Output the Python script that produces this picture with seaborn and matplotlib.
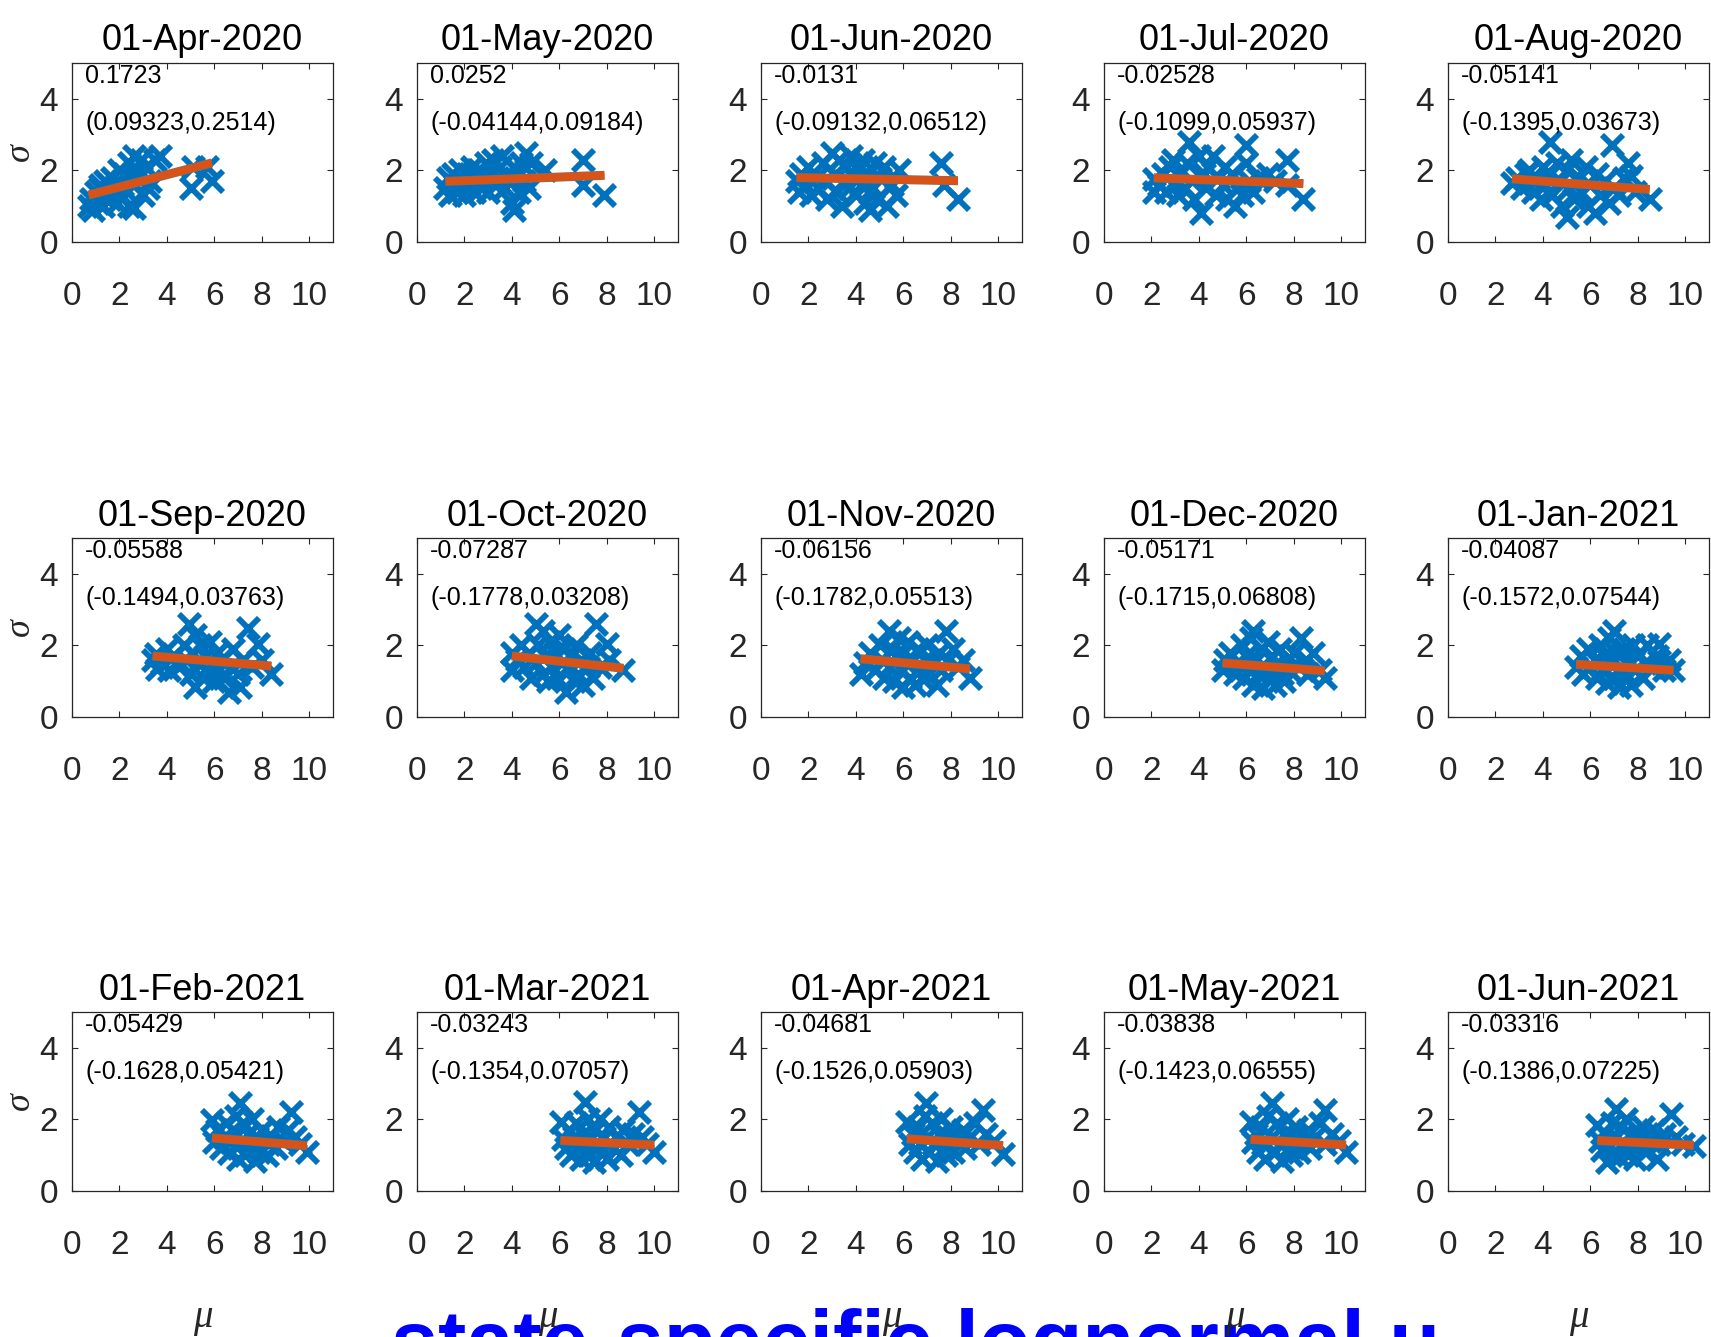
import matplotlib
matplotlib.use("Agg")
import matplotlib.pyplot as plt
import matplotlib.patheffects as pe
import seaborn as sns
import pandas as pd

# Monthly fits of sigma against mu for the state-specific lognormal parameters
titles = ["01-Apr-2020", "01-May-2020", "01-Jun-2020", "01-Jul-2020", "01-Aug-2020",
          "01-Sep-2020", "01-Oct-2020", "01-Nov-2020", "01-Dec-2020", "01-Jan-2021",
          "01-Feb-2021", "01-Mar-2021", "01-Apr-2021", "01-May-2021", "01-Jun-2021"]

slopes = [0.1723, 0.0252, -0.0131, -0.02528, -0.05141,
          -0.05588, -0.07287, -0.06156, -0.05171, -0.04087,
          -0.05429, -0.03243, -0.04681, -0.03838, -0.03316]

ci_low = [0.09323, -0.04144, -0.09132, -0.1099, -0.1395,
          -0.1494, -0.1778, -0.1782, -0.1715, -0.1572,
          -0.1628, -0.1354, -0.1526, -0.1423, -0.1386]

ci_high = [0.2514, 0.09184, 0.06512, 0.05937, 0.03673,
           0.03763, 0.03208, 0.05513, 0.06808, 0.07544,
           0.05421, 0.07057, 0.05903, 0.06555, 0.07225]

intercepts = [1.192, 1.663, 1.820, 1.846, 1.904,
              1.893, 1.995, 1.885, 1.769, 1.693,
              1.803, 1.608, 1.748, 1.679, 1.621]

# (mu, sigma) per state for each month
pts_2020_04 = [(0.7, 1.0), (0.8, 1.2), (0.9, 0.9), (1.0, 1.4), (1.1, 1.1), (1.2, 1.5), (1.2, 1.6),
               (1.3, 1.0), (1.4, 1.7), (1.5, 1.3), (1.6, 1.2), (1.7, 1.8), (1.8, 1.5), (1.9, 1.1),
               (2.0, 2.0), (2.0, 1.3), (2.1, 1.6), (2.2, 1.9), (2.3, 1.4), (2.4, 2.2), (2.4, 1.0),
               (2.5, 1.7), (2.6, 2.4), (2.6, 0.95), (2.7, 2.0), (2.8, 1.8), (2.9, 2.3), (3.0, 1.3),
               (3.1, 2.1), (3.2, 1.5), (3.3, 1.7), (3.5, 2.3), (3.7, 2.4), (5.0, 1.5), (5.1, 2.1),
               (5.7, 2.1), (5.9, 1.7)]

pts_2020_05 = [(1.2, 1.5), (1.3, 1.8), (1.4, 1.3), (1.5, 1.9), (1.6, 1.6), (1.7, 1.4), (1.8, 2.0),
               (1.9, 1.7), (2.0, 1.3), (2.1, 1.9), (2.2, 1.6), (2.3, 2.1), (2.4, 1.4), (2.5, 1.8),
               (2.6, 2.0), (2.7, 1.5), (2.8, 1.7), (2.9, 2.2), (3.0, 1.4), (3.1, 1.9), (3.2, 2.3),
               (3.3, 1.6), (3.4, 1.8), (3.5, 2.1), (3.6, 2.4), (3.7, 1.5), (3.8, 1.9), (3.9, 1.7),
               (4.0, 1.1), (4.1, 0.9), (4.2, 2.0), (4.3, 1.4), (4.4, 2.2), (4.5, 1.7), (4.6, 2.5),
               (4.7, 1.5), (4.8, 2.2), (5.4, 2.0), (7.0, 2.3), (7.0, 1.6), (7.9, 1.3)]

pts_2020_06 = [(1.5, 1.7), (1.6, 1.4), (1.7, 1.9), (1.9, 1.6), (2.0, 2.1), (2.1, 1.3), (2.3, 1.8),
               (2.4, 1.5), (2.6, 2.2), (2.7, 1.7), (2.8, 1.2), (3.0, 2.5), (3.1, 1.9), (3.2, 1.4),
               (3.3, 2.3), (3.4, 1.0), (3.5, 1.7), (3.6, 2.1), (3.7, 1.5), (3.8, 2.4), (3.9, 1.8),
               (4.0, 1.3), (4.1, 2.0), (4.2, 1.6), (4.3, 2.3), (4.4, 1.1), (4.5, 1.9), (4.6, 0.9),
               (4.7, 1.5), (4.8, 2.2), (4.9, 1.2), (5.0, 1.8), (5.2, 2.1), (5.3, 1.0), (5.5, 1.6),
               (5.7, 1.3), (5.8, 2.0), (7.6, 2.2), (7.7, 1.6), (8.3, 1.2)]

pts_2020_07 = [(2.1, 1.4), (2.1, 1.75), (2.3, 1.6), (2.5, 1.9), (2.6, 1.4), (2.8, 2.1), (2.9, 2.3),
               (3.0, 1.6), (3.1, 1.3), (3.2, 1.9), (3.4, 1.5), (3.5, 2.2), (3.6, 2.8), (3.7, 1.7),
               (3.8, 1.2), (4.0, 2.4), (4.1, 0.8), (4.2, 1.9), (4.3, 1.5), (4.4, 2.1), (4.6, 2.4),
               (4.7, 1.3), (4.8, 1.8), (5.0, 1.6), (5.1, 2.1), (5.2, 1.2), (5.4, 1.9), (5.5, 1.0),
               (5.6, 1.5), (5.8, 1.3), (6.0, 2.7), (6.0, 2.2), (6.1, 1.7), (6.3, 1.4), (6.5, 1.8),
               (6.9, 1.9), (7.2, 1.7), (7.7, 2.3), (7.7, 1.6), (8.4, 1.2)]

pts_2020_08 = [(2.7, 1.65), (2.9, 1.8), (3.1, 1.5), (3.3, 1.9), (3.4, 2.0), (3.6, 1.4), (3.7, 1.7),
               (3.9, 1.2), (4.0, 2.1), (4.1, 1.6), (4.3, 2.8), (4.3, 1.9), (4.4, 1.3), (4.6, 2.2),
               (4.7, 1.7), (4.8, 1.0), (5.0, 0.7), (5.0, 2.0), (5.1, 1.5), (5.2, 2.3), (5.3, 1.2),
               (5.5, 1.8), (5.6, 1.4), (5.8, 2.1), (5.9, 1.0), (6.0, 1.6), (6.2, 0.8), (6.3, 1.9),
               (6.4, 1.3), (6.6, 1.7), (6.8, 1.1), (6.9, 2.7), (7.0, 1.5), (7.2, 1.3), (7.4, 1.8),
               (7.6, 2.2), (7.7, 1.85), (7.9, 1.4), (8.5, 1.2)]

pts_2020_09 = [(3.4, 1.6), (3.55, 1.75), (3.6, 1.33), (3.8, 1.5), (4.0, 1.9), (4.1, 1.3), (4.3, 1.7),
               (4.5, 1.4), (4.7, 2.0), (4.8, 1.6), (4.95, 2.6), (5.0, 1.2), (5.1, 1.8), (5.2, 2.3),
               (5.2, 0.85), (5.3, 1.5), (5.4, 2.0), (5.5, 1.1), (5.6, 1.7), (5.7, 1.3), (5.8, 2.1),
               (5.9, 1.5), (6.0, 1.0), (6.1, 1.8), (6.2, 1.3), (6.3, 1.6), (6.4, 1.1), (6.6, 0.7),
               (6.7, 1.4), (6.8, 1.9), (7.0, 1.2), (7.1, 0.85), (7.2, 1.6), (7.4, 2.5), (7.6, 1.4),
               (7.85, 2.05), (8.0, 1.6), (8.4, 1.2)]

pts_2020_10 = [(4.0, 1.8), (4.0, 1.3), (4.2, 1.6), (4.4, 2.0), (4.5, 1.4), (4.7, 1.8), (4.8, 1.1),
               (5.0, 2.6), (5.0, 1.5), (5.1, 2.0), (5.3, 2.4), (5.3, 1.2), (5.4, 1.7), (5.5, 1.0),
               (5.6, 2.1), (5.7, 1.4), (5.8, 1.8), (5.9, 1.1), (6.0, 2.3), (6.1, 1.5), (6.2, 1.9),
               (6.3, 0.7), (6.4, 1.3), (6.5, 1.7), (6.6, 1.0), (6.7, 2.0), (6.8, 1.2), (6.9, 1.6),
               (7.0, 0.9), (7.2, 1.4), (7.3, 1.8), (7.4, 1.1), (7.55, 2.6), (7.7, 1.4), (8.0, 2.05),
               (8.1, 1.6), (8.7, 1.3)]

pts_2020_11 = [(4.2, 1.2), (4.4, 1.5), (4.6, 1.8), (4.8, 1.3), (5.0, 2.0), (5.1, 1.6), (5.2, 1.1),
               (5.4, 2.4), (5.4, 1.4), (5.5, 1.9), (5.6, 1.0), (5.7, 1.7), (5.8, 2.2), (5.9, 1.3),
               (6.0, 0.85), (6.0, 1.8), (6.1, 1.5), (6.2, 2.1), (6.3, 1.1), (6.4, 1.6), (6.5, 0.9),
               (6.6, 1.9), (6.7, 1.3), (6.8, 1.1), (6.9, 1.6), (7.0, 2.0), (7.1, 1.2), (7.3, 1.5),
               (7.4, 0.9), (7.5, 1.8), (7.6, 1.3), (7.8, 2.4), (7.9, 1.6), (8.1, 1.9), (8.3, 1.4),
               (8.5, 1.6), (8.8, 1.1)]

pts_2020_12 = [(5.0, 1.3), (5.1, 1.6), (5.3, 1.8), (5.5, 1.2), (5.6, 1.5), (5.8, 2.0), (5.9, 1.1),
               (6.0, 1.7), (6.1, 1.3), (6.2, 2.2), (6.3, 2.4), (6.3, 0.9), (6.4, 1.6), (6.5, 1.2),
               (6.6, 1.9), (6.7, 0.8), (6.8, 1.4), (6.9, 2.1), (7.0, 1.1), (7.1, 1.7), (7.2, 0.9),
               (7.3, 1.5), (7.4, 1.9), (7.5, 1.2), (7.6, 1.0), (7.7, 1.6), (7.8, 1.3), (8.0, 1.8),
               (8.2, 1.4), (8.3, 2.2), (8.5, 1.6), (8.6, 1.2), (8.8, 1.8), (9.1, 1.3), (9.3, 1.1)]

pts_2021_01 = [(5.4, 1.4), (5.6, 1.7), (5.7, 1.2), (5.9, 1.9), (6.0, 1.4), (6.2, 1.6), (6.3, 1.1),
               (6.4, 2.0), (6.5, 1.3), (6.6, 1.7), (6.7, 0.95), (6.8, 2.2), (6.9, 1.5), (7.0, 2.4),
               (7.0, 1.1), (7.1, 1.8), (7.2, 0.85), (7.3, 1.4), (7.4, 1.9), (7.5, 1.2), (7.6, 1.6),
               (7.7, 0.9), (7.8, 2.0), (7.9, 1.3), (8.0, 1.7), (8.2, 1.1), (8.3, 1.5), (8.4, 2.0),
               (8.6, 1.4), (8.8, 1.7), (8.9, 2.05), (9.1, 1.3), (9.3, 1.6), (9.5, 1.3)]

pts_2021_02 = [(5.9, 1.98), (6.0, 1.37), (6.1, 1.7), (6.3, 1.2), (6.4, 1.5), (6.5, 1.9), (6.6, 1.05),
               (6.7, 1.4), (6.8, 1.7), (6.9, 2.1), (7.0, 0.9), (7.1, 2.45), (7.1, 1.3), (7.2, 1.9),
               (7.3, 1.0), (7.4, 1.6), (7.5, 1.2), (7.6, 2.0), (7.7, 0.85), (7.8, 1.5), (7.9, 1.1),
               (8.0, 1.7), (8.2, 1.0), (8.3, 1.3), (8.4, 1.55), (8.6, 1.2), (8.7, 1.8), (8.9, 1.4),
               (9.1, 1.7), (9.25, 2.2), (9.4, 1.5), (9.6, 1.3), (9.9, 1.1)]

pts_2021_03 = [(6.05, 1.93), (6.15, 1.46), (6.3, 1.2), (6.4, 1.7), (6.5, 1.0), (6.6, 1.5), (6.7, 1.9),
               (6.8, 1.2), (6.9, 0.9), (7.0, 1.6), (7.1, 2.5), (7.1, 1.3), (7.2, 2.0), (7.3, 1.0),
               (7.45, 0.8), (7.5, 1.7), (7.6, 1.3), (7.7, 2.0), (7.8, 1.1), (7.9, 1.5), (8.0, 0.9),
               (8.1, 1.8), (8.3, 1.2), (8.4, 1.5), (8.6, 1.0), (8.7, 1.7), (8.9, 1.3), (9.1, 1.6),
               (9.35, 2.2), (9.5, 1.5), (9.7, 1.3), (10.0, 1.08)]

pts_2021_04 = [(6.15, 1.93), (6.3, 1.32), (6.4, 1.6), (6.5, 1.1), (6.6, 1.8), (6.7, 1.3), (6.8, 0.9),
               (6.9, 2.1), (6.96, 2.45), (7.0, 1.5), (7.1, 1.1), (7.2, 1.9), (7.3, 1.3), (7.4, 0.85),
               (7.5, 1.6), (7.6, 2.0), (7.7, 1.2), (7.8, 1.0), (7.9, 1.5), (8.0, 1.8), (8.1, 1.1),
               (8.3, 1.4), (8.5, 1.7), (8.6, 1.2), (8.8, 1.5), (9.0, 1.9), (9.2, 1.3), (9.35, 2.26),
               (9.5, 1.6), (9.8, 1.4), (10.2, 1.04)]

pts_2021_05 = [(6.18, 1.93), (6.3, 1.37), (6.4, 1.6), (6.5, 1.1), (6.6, 1.8), (6.7, 1.3), (6.8, 0.9),
               (6.9, 2.1), (7.1, 2.45), (7.1, 1.5), (7.2, 1.1), (7.3, 1.9), (7.4, 1.3), (7.5, 0.85),
               (7.6, 1.6), (7.7, 2.0), (7.8, 1.2), (7.9, 1.0), (8.0, 1.5), (8.1, 1.8), (8.2, 1.1),
               (8.4, 1.4), (8.6, 1.7), (8.7, 1.2), (8.9, 1.5), (9.1, 1.9), (9.3, 2.26), (9.3, 1.3),
               (9.6, 1.6), (9.9, 1.4), (10.2, 1.08)]

pts_2021_06 = [(6.3, 1.83), (6.4, 1.4), (6.5, 1.15), (6.6, 1.6), (6.7, 0.8), (6.8, 1.3), (6.9, 1.9),
               (7.0, 1.1), (7.1, 2.3), (7.1, 1.5), (7.2, 0.95), (7.3, 1.8), (7.4, 1.3), (7.5, 2.0),
               (7.6, 1.0), (7.7, 1.6), (7.8, 1.2), (7.9, 0.9), (8.0, 1.5), (8.2, 1.8), (8.3, 1.1),
               (8.5, 1.4), (8.7, 1.7), (8.8, 0.9), (8.9, 1.3), (9.1, 1.6), (9.4, 2.15), (9.6, 1.5),
               (9.9, 1.3), (10.35, 1.27)]

panel_points = [pts_2020_04, pts_2020_05, pts_2020_06, pts_2020_07, pts_2020_08,
                pts_2020_09, pts_2020_10, pts_2020_11, pts_2020_12, pts_2021_01,
                pts_2021_02, pts_2021_03, pts_2021_04, pts_2021_05, pts_2021_06]

x_ticks = [0, 2, 4, 6, 8, 10]
y_ticks = [0, 2, 4]

BLUE = "#0072BD"
ORANGE = "#D95319"
INK = "#262626"

sns.set_style("ticks")
plt.rcParams["font.family"] = ["Liberation Sans", "DejaVu Sans"]

W, H = 1711, 1337
fig = plt.figure(figsize=(W / 100, H / 100), dpi=100)
fig.patch.set_facecolor("white")

col_left = [72, 417, 761, 1104, 1448]
row_bottom = [242, 717, 1191]
ax_w, ax_h = 261, 179

serif = ["Liberation Serif", "DejaVu Serif"]

for i, pts in enumerate(panel_points):
    r, c = divmod(i, 5)
    ax = fig.add_axes([col_left[c] / W, 1 - row_bottom[r] / H, ax_w / W, ax_h / H])
    df = pd.DataFrame(pts, columns=["mu", "sigma"])
    sns.scatterplot(data=df, x="mu", y="sigma", ax=ax, marker="x", s=230,
                    color=BLUE, linewidth=4.2, zorder=2, legend=False)

    x0, x1 = df["mu"].min(), df["mu"].max()
    fit = pd.DataFrame({"mu": [x0, x1],
                        "sigma": [intercepts[i] + slopes[i] * x0,
                                  intercepts[i] + slopes[i] * x1]})
    sns.lineplot(data=fit, x="mu", y="sigma", ax=ax, color=ORANGE, linewidth=5.5,
                 zorder=3, legend=False, solid_capstyle="butt",
                 path_effects=[pe.Stroke(linewidth=6.5, foreground="#8a6a5a", capstyle="butt"),
                               pe.Normal()])

    ax.set_xlim(0, 11)
    ax.set_ylim(0, 5)
    ax.set_xticks(x_ticks)
    ax.set_yticks(y_ticks)
    ax.tick_params(direction="in", length=4, width=0.8, top=True, right=True,
                   labelsize=24, color=INK, labelcolor=INK)
    ax.tick_params(axis="x", pad=28)
    ax.tick_params(axis="y", pad=10)
    for sp in ax.spines.values():
        sp.set_color(INK)
        sp.set_linewidth(0.9)

    ax.set_title(titles[i], fontsize=26, pad=9, color="black")

    ax.text(0.55, 4.64, f"{slopes[i]:.4g}", fontsize=18, ha="left", va="center", color="black")
    ax.text(0.55, 3.32, f"({ci_low[i]:.4g},{ci_high[i]:.4g})", fontsize=18,
            ha="left", va="center", color="black")

    if c == 0:
        ax.set_ylabel("σ", fontsize=26, family=serif, style="italic", color=INK)
        ax.yaxis.label.set_va("center")
        ax.yaxis.set_label_coords(-0.199, 0.5)
    else:
        ax.set_ylabel("")
    if r == 2:
        ax.set_xlabel("μ", fontsize=28, family=serif, style="italic", color=INK)
        ax.xaxis.label.set_va("center")
        ax.xaxis.set_label_coords(0.5, -0.704)
    else:
        ax.set_xlabel("")

fig.text(391 / W, 1 - 1370 / H, "state-specific lognormal μ", color="#0000FF",
         fontsize=61, fontweight="bold", family=["Liberation Sans", "DejaVu Sans"],
         ha="left", va="baseline", zorder=-1)

fig.savefig("out.png", dpi=100, facecolor="white")
